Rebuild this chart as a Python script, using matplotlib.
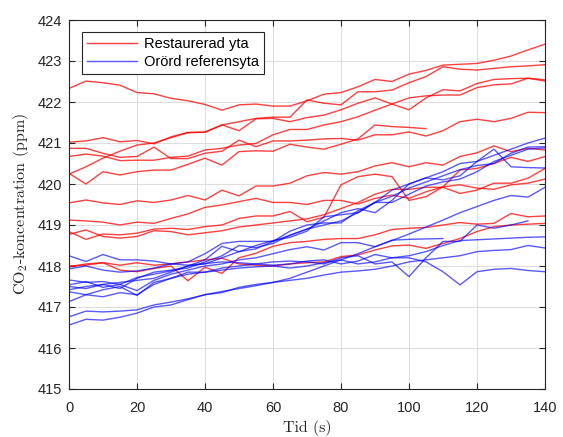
import matplotlib
matplotlib.use("Agg")
import matplotlib.pyplot as plt
import numpy as np

plt.rcParams['mathtext.fontset'] = 'cm'

# time axis (s)
tid = list(range(0, 145, 5))

# Restaurerad yta (red)
red_series = [
    [422.33,422.51,422.47,422.41,422.23,422.20,422.09,422.03,421.94,421.80,421.93,421.95,421.90,421.90,422.03,422.19,422.23,422.37,422.55,422.50,422.68,422.77,422.90,422.92,422.94,423.02,423.12,423.27,423.41],
    [421.02,421.05,421.13,421.03,421.06,420.98,421.15,421.26,421.26,421.44,421.52,421.60,421.63,421.63,422.05,421.97,421.93,422.25,422.25,422.29,422.47,422.62,422.86,422.80,422.78,422.82,422.86,422.88,422.91],
    [420.24,420.42,420.63,420.80,420.95,421.00,421.13,421.25,421.27,421.44,421.30,421.59,421.60,421.52,421.62,421.68,421.81,421.97,422.10,421.95,421.81,422.10,422.30,422.27,422.45,422.55,422.57,422.58,422.54],
    [420.67,420.73,420.68,420.57,420.58,420.58,420.65,420.68,420.83,420.87,420.95,420.99,421.20,421.33,421.33,421.44,421.52,421.64,421.80,421.95,422.10,422.15,422.17,422.17,422.35,422.42,422.44,422.58,422.51],
    [420.87,420.87,420.75,420.65,420.67,420.90,420.62,420.62,420.75,420.80,421.07,420.91,421.05,421.05,421.07,421.10,421.11,421.07,421.20,421.20,421.27,421.17,421.30,421.52,421.58,421.52,421.60,421.75,421.74],
    [420.26,420.00,420.30,420.22,420.30,420.34,420.34,420.48,420.63,420.46,420.79,420.81,420.80,420.97,420.90,420.85,420.97,421.10,421.44,421.40,421.38,421.35],
    [419.54,419.61,419.54,419.50,419.59,419.55,419.61,419.72,419.61,419.85,419.71,419.95,419.95,420.02,420.20,420.28,420.24,420.30,420.44,420.52,420.42,420.52,420.46,420.67,420.76,420.93,420.79,420.87,420.83],
    [419.12,419.10,419.07,419.00,419.07,419.04,419.16,419.27,419.43,419.49,419.57,419.65,419.55,419.55,419.50,419.60,419.60,419.51,419.65,419.73,419.65,419.81,419.93,419.98,419.90,419.87,419.98,420.02,420.12],
    [418.84,418.65,418.78,418.76,418.80,418.90,418.92,418.89,418.96,419.00,419.16,419.22,419.22,419.33,419.08,419.19,419.98,420.18,420.24,420.18,419.60,419.69,419.93,420.34,420.38,420.50,420.65,420.55,420.67],
    [418.77,418.88,418.72,418.68,418.72,418.86,418.84,418.76,418.81,418.86,418.95,419.00,419.05,419.10,419.15,419.25,419.40,419.55,419.75,419.87,419.87,419.92,419.92,419.77,419.85,420.02,420.02,420.14,420.38],
    [417.98,418.05,418.08,417.90,417.86,417.94,418.00,417.64,417.97,417.82,418.20,418.31,418.48,418.57,418.60,418.65,418.67,418.67,418.76,418.89,418.92,418.94,419.00,419.06,419.02,419.04,419.28,419.20,419.22],
    [418.00,418.02,418.08,418.02,418.08,418.02,418.05,418.10,418.15,418.19,418.05,418.02,418.00,418.05,418.08,418.10,418.23,418.27,418.39,418.49,418.51,418.43,418.55,418.67,418.84,418.96,419.00,419.02,419.04],
]

# Orörd referensyta (blue)
blue_series = [
    [416.56,416.70,416.68,416.75,416.85,417.00,417.05,417.18,417.30,417.35,417.48,417.55,417.60,417.70,417.85,418.00,418.15,418.30,418.47,418.62,418.78,418.95,419.12,419.30,419.45,419.60,419.72,419.68,419.92],
    [416.76,416.90,416.88,416.90,416.93,417.05,417.12,417.20,417.30,417.38,417.45,417.52,417.60,417.65,417.70,417.78,417.85,417.88,417.92,418.00,418.10,418.15,418.20,418.25,418.35,418.38,418.40,418.50,418.44],
    [418.25,418.11,418.28,418.15,418.15,418.12,418.05,418.02,418.06,418.10,418.08,418.05,418.02,418.05,418.12,418.15,418.05,418.12,418.28,418.20,418.20,418.10,417.86,417.54,417.86,417.92,417.94,417.89,417.86],
    [417.37,417.30,417.42,417.50,417.28,417.60,417.70,417.80,417.85,417.90,417.95,417.98,418.00,417.95,418.00,418.08,418.15,418.05,418.10,418.20,418.25,418.35,418.50,418.62,418.64,418.66,418.68,418.70,418.71],
    [417.50,417.45,417.55,417.60,417.65,417.70,417.85,418.00,418.05,418.20,418.35,418.50,418.62,418.70,418.85,419.20,419.25,419.30,419.55,419.85,420.00,420.15,420.30,420.50,420.55,420.70,420.85,421.00,421.12],
    [417.42,417.50,417.55,417.45,417.70,417.85,417.90,417.95,418.10,418.25,418.50,418.45,418.55,418.75,418.90,419.00,419.10,419.30,419.55,419.70,419.90,420.05,420.20,420.35,420.45,420.50,420.75,420.90,420.91],
    [417.66,417.60,417.62,417.55,417.72,417.80,417.88,418.00,418.15,418.48,418.35,418.42,418.60,418.85,419.00,419.05,419.05,419.35,419.55,419.55,419.75,419.95,420.05,420.12,420.30,420.55,420.70,420.85,420.88],
    [417.93,418.00,417.90,417.85,417.88,417.95,418.05,418.10,418.30,418.55,418.60,418.60,418.60,418.75,418.90,419.10,419.30,419.40,419.30,419.60,420.00,420.15,420.10,420.20,420.55,420.85,420.42,420.40,420.39],
    [417.13,417.30,417.25,417.35,417.30,417.55,417.70,417.85,417.85,417.95,418.00,418.05,418.10,418.12,418.10,418.05,418.20,418.25,418.05,418.10,417.74,418.20,418.60,418.60,419.00,418.92,419.00,419.10],
    [417.54,417.62,417.48,417.55,417.40,417.65,417.80,417.90,418.00,418.05,418.15,418.20,418.30,418.40,418.47,418.39,418.57,418.57,418.47,418.63,418.65,418.66,418.67],
]

labels = ["Restaurerad yta", "Orörd referensyta"]
xticks = [0, 20, 40, 60, 80, 100, 120, 140]
yticks = [415, 416, 417, 418, 419, 420, 421, 422, 423, 424]

fig = plt.figure(figsize=(5.63, 4.37), dpi=100)
ax = fig.add_axes([69/563, 1-389/437, 476/563, 369/437])

for i, s in enumerate(red_series):
    ax.plot(tid[:len(s)], s, color=(1, 0, 0), alpha=0.75, lw=1.0,
            label=labels[0] if i == 0 else None)
for i, s in enumerate(blue_series):
    ax.plot(tid[:len(s)], s, color=(0, 0, 1), alpha=0.65, lw=1.0,
            label=labels[1] if i == 0 else None)

ax.set_xlim(0, 140)
ax.set_ylim(415, 424)
ax.set_xticks(xticks)
ax.set_yticks(yticks)
ax.grid(True, color='0.87', lw=0.8)
ax.set_axisbelow(True)
ax.tick_params(direction='in', length=4, width=0.8, top=True, right=True,
               labelsize=10.5, colors='0.15')
ax.tick_params(axis='x', pad=8.5)
ax.tick_params(axis='y', pad=5)
for lab in ax.get_xticklabels() + ax.get_yticklabels():
    lab.set_fontfamily('Liberation Sans')
for sp in ax.spines.values():
    sp.set_color('0.15')
    sp.set_linewidth(0.8)

ax.set_xlabel('Tid (s)', fontfamily='cmr10', fontsize=11.5, color='0.15', labelpad=4)
ax.set_ylabel('CO$_2$-koncentration (ppm)', fontfamily='cmr10', fontsize=11.5,
              color='0.15', labelpad=5)

leg = ax.legend(loc='upper left', bbox_to_anchor=(0.028, 0.967), fancybox=False,
                edgecolor='0.15', framealpha=1, prop={'family': 'Liberation Sans', 'size': 10.5},
                handlelength=3.4, borderpad=0.35, labelspacing=0.25, handletextpad=0.5,
                borderaxespad=0)
leg.get_frame().set_linewidth(0.8)

fig.savefig('out.png', dpi=100)
